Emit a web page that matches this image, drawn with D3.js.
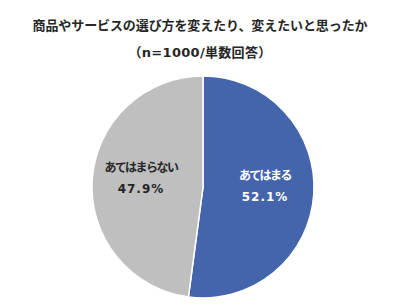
<!DOCTYPE html>
<html>
<head>
<meta charset="utf-8">
<script src="https://cdn.jsdelivr.net/npm/d3@7"></script>
<style>
  body { margin: 0; background: #fff; }
  svg text { font-family: "DejaVu Sans", "Noto Sans CJK JP", sans-serif; font-weight: bold; }
</style>
</head>
<body>
<script>
(function() {

  // chart data
  var titleLines = ["商品やサービスの選び方を変えたり、変えたいと思ったか", "（n=1000/単数回答）"];
  var categories = ["あてはまる", "あてはまらない"];
  var values = [52.1, 47.9];
  var colors = ["#4465AB", "#BFBFBF"];
  var labelColors = ["#ffffff", "#262626"];

  var width = 400,
      height = 307,
      cx = 203,
      cy = 187,
      radius = 111;

  var svg = d3.select("body").append("svg")
      .attr("width", width)
      .attr("height", height);

  // title
  svg.selectAll(".title")
      .data(titleLines)
    .enter().append("text")
      .attr("class", "title")
      .attr("x", 200)
      .attr("y", function(d, i) { return 30 + i * 27; })
      .attr("text-anchor", "middle")
      .style("font-size", "13px")
      .style("letter-spacing", function(d, i) { return i ? "0.3px" : "-0.1px"; })
      .style("fill", "#262626")
      .text(function(d) { return d; });

  var data = categories.map(function(c, i) { return {name: c, value: values[i], i: i}; });

  var pie = d3.pie().sort(null).value(function(d) { return d.value; });
  var arc = d3.arc().innerRadius(0).outerRadius(radius);

  var g = svg.append("g")
      .attr("transform", "translate(" + cx + "," + cy + ")");

  var slices = pie(data);

  g.selectAll(".slice")
      .data(slices)
    .enter().append("path")
      .attr("class", "slice")
      .attr("d", arc)
      .style("fill", function(d) { return colors[d.data.i]; })
      .style("stroke", "#fff")
      .style("stroke-width", 1.5);

  // labels, placed at about 58% of the radius
  var labelArc = d3.arc().innerRadius(radius * 0.56).outerRadius(radius * 0.56);

  var lab = g.selectAll(".lab")
      .data(slices)
    .enter().append("text")
      .attr("class", "lab")
      .attr("transform", function(d) { var c = labelArc.centroid(d); return "translate(" + c[0] + "," + (c[1] - 11) + ")"; })
      .attr("text-anchor", "middle")
      .style("font-size", "12px")
      .style("fill", function(d) { return labelColors[d.data.i]; });

  lab.append("tspan")
      .attr("x", 0)
      .attr("dy", 0)
      .style("letter-spacing", "-1.5px")
      .text(function(d) { return d.data.name; });

  lab.append("tspan")
      .attr("x", 0)
      .attr("dy", 21)
      .style("letter-spacing", "1px")
      .text(function(d) { return d.data.value.toFixed(1) + "%"; });

})();
</script>
</body>
</html>
